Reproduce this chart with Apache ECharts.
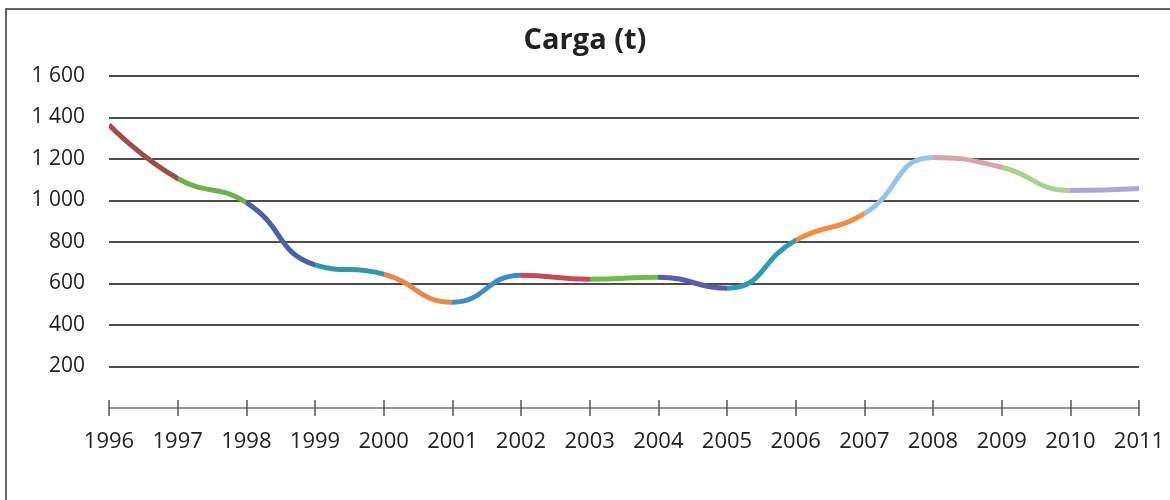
<!DOCTYPE html>
<html><head><meta charset="utf-8">
<script src="https://cdn.jsdelivr.net/npm/echarts@6/dist/echarts.min.js"></script>
<style>html,body{margin:0;padding:0;background:#fff}#c{width:1170px;height:500px}</style>
</head><body><div id="c"></div>
<script>
const years = ['1996','1997','1998','1999','2000','2001','2002','2003','2004','2005','2006','2007','2008','2009','2010','2011'];
const carga = [1365,1106,990,690,645,510,640,620,630,577,808,937,1207,1160,1048,1058];
const segmentColors = ['#a04a4c','#6fb04a','#4e5fa8','#2f98ab','#e9874a','#3f8bcb','#c9495c','#6dbb4b','#5b5bad','#2f9ab4','#f68b3b','#98c3e5','#d6a4aa','#aad18f','#aaa6dd'];
const yTicks = [0,200,400,600,800,1000,1200,1400,1600];

const chart = echarts.init(document.getElementById('c'));
const fmt = v => v >= 1000 ? Math.floor(v/1000) + ' ' + String(v%1000).padStart(3,'0') : String(v);
chart.setOption({
  animation:false,
  title:{text:'Carga (t)',left:'center',top:21,textStyle:{fontFamily:'Open Sans',fontWeight:'bold',fontSize:29,color:'#222'}},
  grid:{left:109,right:31,top:76,bottom:92,containLabel:false},
  graphic:[{type:'rect',shape:{x:6,y:9,width:1200,height:520},style:{fill:'none',stroke:'#333',lineWidth:1.5},silent:true}],
  xAxis:[{type:'category',data:years,boundaryGap:false,
    axisLine:{lineStyle:{color:'#777',width:1.5}},
    axisTick:{show:true,length:8,lineStyle:{color:'#555',width:1.5}},
    axisLabel:{margin:23,fontFamily:'Open Sans',fontSize:22,color:'#222'}},
   {type:'category',data:years,boundaryGap:false,position:'bottom',
    axisLine:{show:false},axisTick:{show:true,inside:true,length:8,lineStyle:{color:'#555',width:1.5}},axisLabel:{show:false}}],
  yAxis:{type:'value',min:yTicks[0],max:yTicks[yTicks.length-1],interval:200,
    axisLine:{show:false},axisTick:{show:false},
    splitLine:{showMinLine:false,lineStyle:{color:'#111',width:1.6}},
    axisLabel:{showMinLabel:false,margin:24,fontFamily:'Open Sans',fontSize:21,color:'#222',formatter:fmt}},
  visualMap:{show:false,type:'piecewise',dimension:0,seriesIndex:0,
    pieces:segmentColors.map((c,i)=>({gte:i,lt:i+1,color:c})).concat([{gte:15,lte:15,color:segmentColors[14]}])},
  series:[{type:'line',data:carga,smooth:0.5,showSymbol:false,lineStyle:{width:5}}]
});
</script></body></html>
